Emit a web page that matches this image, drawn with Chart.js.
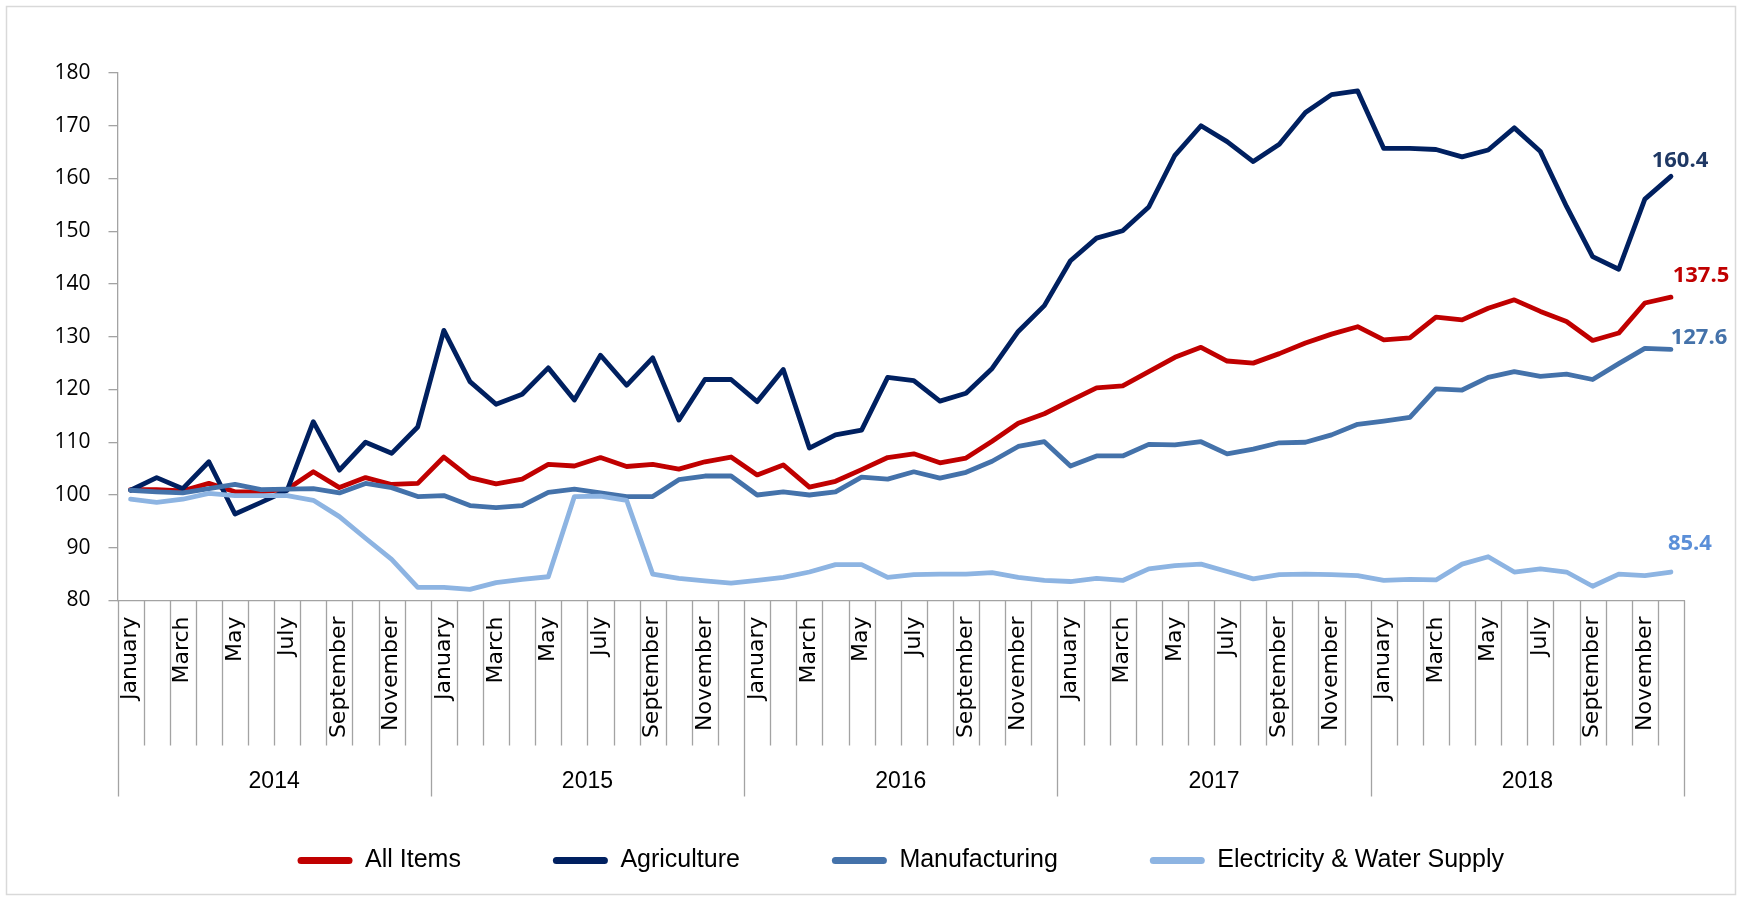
<!DOCTYPE html>
<html>
<head>
<meta charset="utf-8">
<title>Price index by sector, 2014-2018</title>
<script src="https://cdn.jsdelivr.net/npm/chart.js@4.4.1/dist/chart.umd.min.js"></script>
<style>
  html, body { margin: 0; padding: 0; background: #fff; }
  #wrap { position: relative; width: 1742px; height: 900px; }
</style>
</head>
<body>
<div id="wrap"><canvas id="cpi"></canvas></div>
<script>
// --- data (Jan 2014 .. Dec 2018) ---
const years = ['2014', '2015', '2016', '2017', '2018'];
const months = ['January', 'February', 'March', 'April', 'May', 'June',
  'July', 'August', 'September', 'October', 'November', 'December'];

const allItems = [
  101.0, 101.0, 100.8, 102.2, 100.6, 100.6, 101.1, 104.4, 101.4, 103.3, 102.0, 102.2,
  107.2, 103.3, 102.1, 103.0, 105.8, 105.5, 107.1, 105.4, 105.8, 104.9, 106.3, 107.2,
  103.8, 105.7, 101.5, 102.6, 104.8, 107.1, 107.8, 106.1, 107.0, 110.2, 113.6, 115.4,
  117.9, 120.3, 120.7, 123.4, 126.1, 128.0, 125.4, 125.0, 126.8, 128.8, 130.5, 131.9,
  129.4, 129.8, 133.7, 133.2, 135.4, 137.0, 134.8, 132.9, 129.3, 130.7, 136.4, 137.5
];
const agriculture = [
  100.9, 103.3, 101.2, 106.3, 96.4, 98.6, 100.9, 113.9, 104.7, 110.0, 107.9, 112.9,
  131.2, 121.5, 117.2, 119.1, 124.1, 118.0, 126.5, 120.8, 126.0, 114.2, 121.9, 121.9,
  117.7, 123.8, 108.9, 111.4, 112.3, 122.3, 121.7, 117.8, 119.3, 124.0, 131.0, 135.9,
  144.4, 148.7, 150.1, 154.6, 164.4, 170.0, 167.0, 163.2, 166.5, 172.5, 175.9, 176.6,
  165.7, 165.7, 165.5, 164.1, 165.4, 169.6, 165.1, 154.7, 145.2, 142.8, 156.1, 160.4
];
const manufacturing = [
  100.9, 100.6, 100.4, 101.2, 102.0, 101.0, 101.1, 101.2, 100.4, 102.2, 101.4, 99.7,
  99.9, 98.0, 97.6, 98.0, 100.5, 101.1, 100.4, 99.7, 99.7, 102.9, 103.6, 103.6,
  100.0, 100.6, 100.0, 100.6, 103.4, 103.0, 104.4, 103.2, 104.3, 106.4, 109.2, 110.1,
  105.5, 107.4, 107.4, 109.6, 109.5, 110.1, 107.8, 108.7, 109.9, 110.0, 111.4, 113.4,
  114.0, 114.7, 120.1, 119.9, 122.3, 123.4, 122.5, 122.9, 121.9, 124.9, 127.8, 127.6
];
const electricity = [
  99.2, 98.6, 99.2, 100.3, 99.9, 99.9, 99.9, 99.0, 95.9, 91.8, 87.8, 82.5,
  82.5, 82.1, 83.4, 84.0, 84.5, 99.7, 99.8, 99.0, 85.0, 84.2, 83.7, 83.3,
  83.8, 84.4, 85.4, 86.8, 86.8, 84.4, 84.9, 85.0, 85.0, 85.3, 84.4, 83.8,
  83.6, 84.2, 83.8, 86.0, 86.6, 86.9, 85.5, 84.1, 84.9, 85.0, 84.9, 84.7,
  83.8, 84.0, 83.9, 86.9, 88.3, 85.4, 86.0, 85.4, 82.7, 85.0, 84.7, 85.4
];
const yTicks = { min: 80, max: 180, step: 10 };

// one category per month
const labels = [];
years.forEach(y => months.forEach(m => labels.push(m + ' ' + y)));

const axisGrey = '#a3a3a3';

// where the value label of each series sits next to its last point
const endLabelOffset = [
  { dx: 30, dy: -21 },
  { dx: 9, dy: -16 },
  { dx: 28, dy: -12 },
  { dx: 19, dy: -28 }
];
const endLabelColor = ['#c00000', '#1f3864', '#4472aa', '#5b8fd8'];

// month separators, year separators and year names under the axis,
// plus the value labels at the end of each line
const excelAxis = {
  id: 'excelAxis',
  beforeDraw(chart) {
    const ctx = chart.ctx;
    ctx.save();
    ctx.fillStyle = '#fff';
    ctx.fillRect(0, 0, chart.width, chart.height);
    ctx.strokeStyle = '#d9d9d9';
    ctx.lineWidth = 1.5;
    ctx.strokeRect(6.5, 6.5, chart.width - 13, chart.height - 12);
    ctx.restore();
  },
  afterDraw(chart) {
    const ctx = chart.ctx;
    const x = chart.scales.x;
    const area = chart.chartArea;
    const w = x.getPixelForValue(1) - x.getPixelForValue(0);
    ctx.save();
    ctx.strokeStyle = axisGrey;
    ctx.lineWidth = 1.3;
    for (let k = 0; k <= labels.length; k++) {
      const px = Math.round(x.getPixelForValue(k) - w / 2) + 0.5;
      const len = k % 12 === 0 ? 196 : 145;
      ctx.beginPath();
      ctx.moveTo(px, area.bottom);
      ctx.lineTo(px, area.bottom + len);
      ctx.stroke();
    }
    ctx.fillStyle = '#000';
    ctx.font = "23px 'Liberation Sans', Arial, sans-serif";
    ctx.textAlign = 'center';
    ctx.textBaseline = 'middle';
    years.forEach((y, i) => {
      const cx = (x.getPixelForValue(i * 12) + x.getPixelForValue(i * 12 + 11)) / 2;
      ctx.fillText(y, cx, area.bottom + 181);
    });

    ctx.font = "bold 22px 'Open Sans', sans-serif";
    chart.data.datasets.forEach((ds, i) => {
      const meta = chart.getDatasetMeta(i);
      const last = meta.data[meta.data.length - 1];
      const off = endLabelOffset[i];
      ctx.fillStyle = endLabelColor[i];
      ctx.fillText(ds.data[ds.data.length - 1].toFixed(1), last.x + off.dx, last.y + off.dy);
    });
    ctx.restore();
  }
};

const series = [
  { label: 'All Items', data: allItems, color: '#c00000', order: 4 },
  { label: 'Agriculture', data: agriculture, color: '#002060', order: 3 },
  { label: 'Manufacturing', data: manufacturing, color: '#4472aa', order: 2 },
  { label: 'Electricity & Water Supply', data: electricity, color: '#8db4e2', order: 1 }
];

new Chart(document.getElementById('cpi'), {
  type: 'line',
  data: {
    labels: labels,
    datasets: series.map(s => ({
      label: s.label,
      data: s.data,
      borderColor: s.color,
      backgroundColor: s.color,
      borderWidth: 4.8,
      borderJoinStyle: 'round',
      borderCapStyle: 'round',
      pointRadius: 0,
      pointHoverRadius: 0,
      tension: 0,
      fill: false,
      order: s.order
    }))
  },
  options: {
    responsive: true,
    maintainAspectRatio: false,
    animation: false,
    layout: { padding: { top: 73, right: 58, bottom: 17, left: 0 } },
    plugins: {
      title: { display: false },
      tooltip: { enabled: false },
      legend: {
        position: 'bottom',
        fullSize: false, // centre the legend under the plot area
        labels: {
          boxWidth: 55,
          boxHeight: 7,
          padding: 92,
          color: '#000',
          font: { family: "'Liberation Sans', Arial, sans-serif", size: 25 },
          useBorderRadius: true,
          borderRadius: 3.5,
          sort: (a, b) => a.datasetIndex - b.datasetIndex,
          generateLabels: chart =>
            Chart.defaults.plugins.legend.labels.generateLabels(chart)
              .map(l => Object.assign(l, { lineWidth: 0, borderRadius: 3.5 }))
        }
      }
    },
    scales: {
      x: {
        offset: true,
        grid: { display: false, drawTicks: false },
        border: { display: true, color: axisGrey, width: 1.3 },
        ticks: {
          autoSkip: false,
          minRotation: 90,
          maxRotation: 90,
          padding: 16,
          color: '#000',
          font: { family: "'DejaVu Sans', sans-serif", size: 22 },
          callback: (v, i) => (i % 2 === 0 ? months[i % 12] : '')
        },
        afterFit: s => { s.height = 155.5; }
      },
      y: {
        min: yTicks.min,
        max: yTicks.max,
        grid: { drawOnChartArea: false, drawTicks: true, tickLength: 9, color: axisGrey, lineWidth: 1.3 },
        border: { display: true, color: axisGrey, width: 1.3 },
        ticks: {
          stepSize: yTicks.step,
          padding: 18,
          color: '#000',
          font: { family: "'Open Sans', sans-serif", size: 21 }
        },
        afterFit: s => { s.width = 117.5; }
      }
    }
  },
  plugins: [excelAxis]
});
</script>
</body>
</html>
